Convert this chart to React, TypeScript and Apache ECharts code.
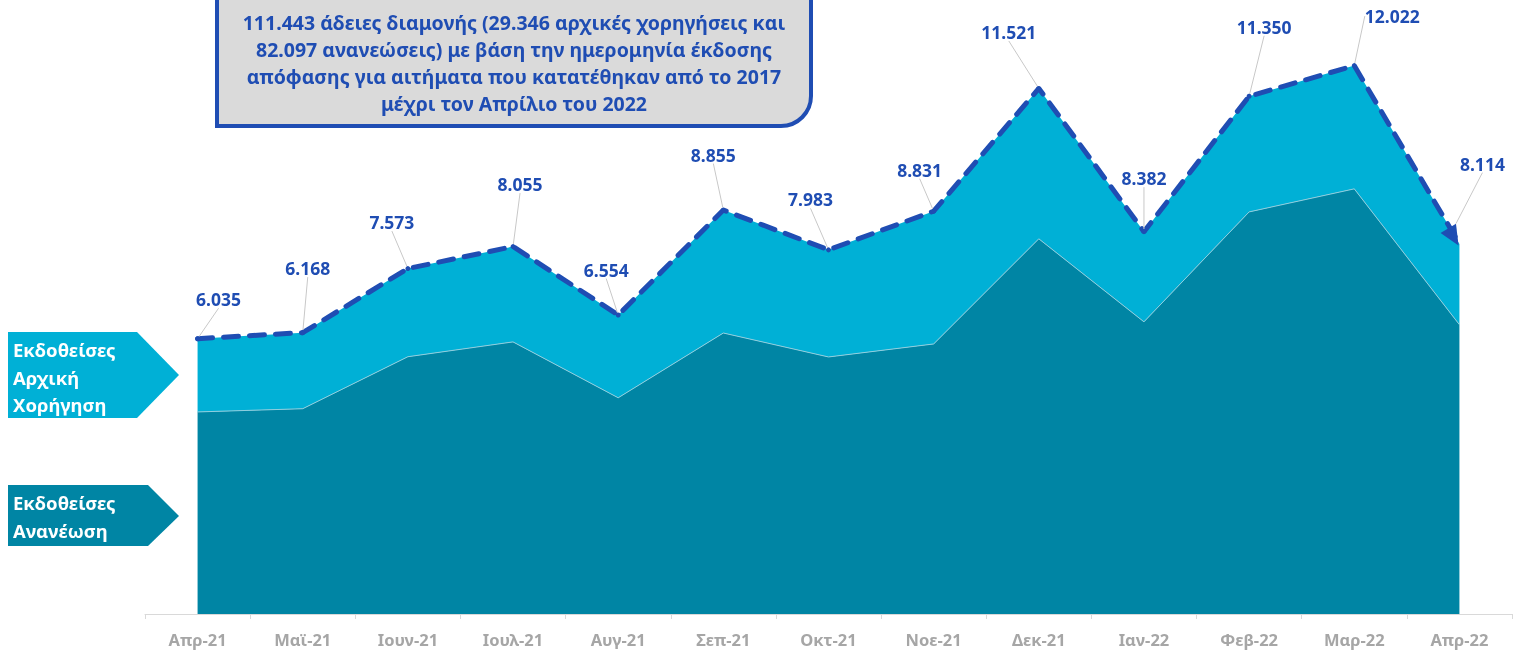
import React, { useEffect, useRef } from "react";
import * as echarts from "echarts";

const categories = ["Απρ-21", "Μαϊ-21", "Ιουν-21", "Ιουλ-21", "Αυγ-21", "Σεπ-21", "Οκτ-21", "Νοε-21", "Δεκ-21", "Ιαν-22", "Φεβ-22", "Μαρ-22", "Απρ-22"];
const renewals = [4430, 4500, 5640, 5965, 4740, 6160, 5635, 5920, 8225, 6405, 8815, 9320, 6342];
const initials = [1605, 1668, 1933, 2090, 1814, 2695, 2348, 2911, 3296, 1977, 2535, 2702, 1772];
const totals = [6035, 6168, 7573, 8055, 6554, 8855, 7983, 8831, 11521, 8382, 11350, 12022, 8114];

const boxLines = [
  "111.443 άδειες διαμονής (29.346 αρχικές χορηγήσεις και",
  "82.097 ανανεώσεις) με βάση την ημερομηνία έκδοσης",
  "απόφασης για αιτήματα που κατατέθηκαν από το 2017",
  "μέχρι τον Απρίλιο του 2022",
];
const initialLabel = "Εκδοθείσες\nΑρχική\nΧορήγηση";
const renewalLabel = "Εκδοθείσες\nΑνανέωση";

// label displacement (style only)
const labelShift: [number, number][] = [
  [21, -23], [5, -48], [-16, -30], [7, -46], [-12, -29], [-10, -39], [-18, -34],
  [-14, -25], [-30, -40], [0, -37], [15, -53], [38, -33], [29, -46],
];

const BLUE = "#1f4db3";
const FONT = "'Noto Sans', sans-serif";

export default function App() {
  const ref = useRef<HTMLDivElement>(null);
  useEffect(() => {
    document.body.style.margin = "0";
    const chart = echarts.init(ref.current!, null, { renderer: "svg" });
    const last = totals.length - 1;
    chart.setOption({
      animation: false,
      textStyle: { fontFamily: FONT },
      grid: { left: 145, right: 22, top: 21, bottom: 41 },
      xAxis: {
        type: "category",
        data: categories,
        boundaryGap: true,
        axisLine: { lineStyle: { color: "#d9d9d9", width: 1 } },
        axisTick: { show: true, length: 5, lineStyle: { color: "#d9d9d9" } },
        axisLabel: { color: "#a6a6a6", fontWeight: "bold", fontSize: 16.5, margin: 17, fontFamily: FONT },
      },
      yAxis: { type: "value", min: 0, max: 13000, show: false, splitLine: { show: false } },
      series: [
        {
          name: "Ανανέωση",
          type: "line",
          stack: "total",
          data: renewals,
          symbol: "none",
          lineStyle: { color: "#8fcfdf", width: 1 },
          areaStyle: { color: "#0085a4", opacity: 1 },
          z: 3,
        },
        {
          name: "Αρχική",
          type: "line",
          stack: "total",
          data: initials,
          symbol: "none",
          lineStyle: { width: 0, color: "#00b0d6" },
          areaStyle: { color: "#00b0d6", opacity: 1 },
          z: 2,
        },
        {
          name: "Σύνολο",
          type: "line",
          data: totals.map((v, i) =>
            i === last
              ? { value: v, symbol: "triangle", symbolSize: [18, 20], symbolRotate: -149, symbolOffset: [-6, -7] }
              : { value: v }
          ),
          symbol: "circle",
          symbolSize: 5,
          showSymbol: true,
          itemStyle: { color: BLUE },
          lineStyle: { color: BLUE, width: 5, type: [15, 11], cap: "round" },
          z: 5,
          label: {
            show: true,
            position: "top",
            distance: 5,
            color: BLUE,
            fontWeight: "bold",
            fontSize: 17.5,
            fontFamily: FONT,
            formatter: (p: any) => (p.value / 1000).toFixed(3),
          },
          labelLayout: (p: any) => ({ dx: labelShift[p.dataIndex][0], dy: labelShift[p.dataIndex][1] }),
          labelLine: { show: true, lineStyle: { color: "#c8c8c8", width: 1 } },
        },
      ],
      graphic: [
        {
          type: "rect",
          shape: { x: 217, y: -60, width: 594, height: 186, r: [0, 0, 30, 0] },
          style: { fill: "#dadada", stroke: BLUE, lineWidth: 4 },
          z: 10,
        },
        ...boxLines.map((t, i) => ({
          type: "text",
          x: 514,
          y: 22 + i * 27.3,
          style: {
            text: t,
            fill: BLUE,
            font: `bold 19.5px ${FONT}`,
            textAlign: "center",
            textVerticalAlign: "middle",
          },
          z: 11,
        })),
        {
          type: "polygon",
          shape: { points: [[8, 332], [137, 332], [179, 375], [137, 418], [8, 418]] },
          style: { fill: "#00b0d6" },
          z: 10,
        },
        {
          type: "text",
          x: 13,
          y: 336,
          style: { text: initialLabel, fill: "#ffffff", font: `bold 18.5px ${FONT}`, lineHeight: 27.5 },
          z: 11,
        },
        {
          type: "polygon",
          shape: { points: [[8, 485], [148, 485], [179, 516], [148, 546], [8, 546]] },
          style: { fill: "#0085a4" },
          z: 10,
        },
        {
          type: "text",
          x: 13,
          y: 488,
          style: { text: renewalLabel, fill: "#ffffff", font: `bold 18.5px ${FONT}`, lineHeight: 28 },
          z: 11,
        },
      ],
    });
    return () => chart.dispose();
  }, []);
  return <div ref={ref} style={{ position: "fixed", left: 0, top: 0, width: 1534, height: 655 }} />;
}
